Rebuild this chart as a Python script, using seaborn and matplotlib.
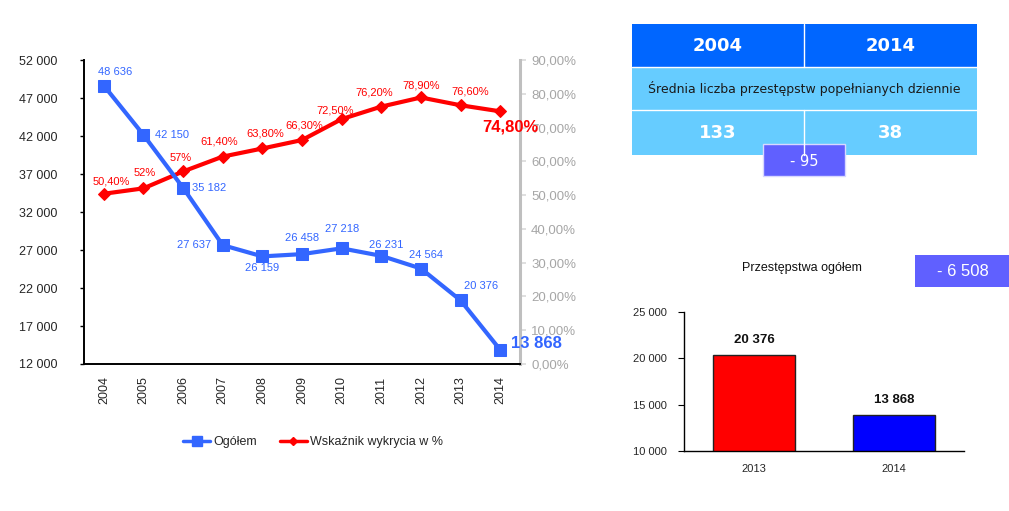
import matplotlib
matplotlib.use("Agg")
import matplotlib.pyplot as plt
from matplotlib.patches import Rectangle
from matplotlib.lines import Line2D
import seaborn as sns
import pandas as pd

# ---------------- data ----------------
years = [2004, 2005, 2006, 2007, 2008, 2009, 2010, 2011, 2012, 2013, 2014]
ogolem = [48636, 42150, 35182, 27637, 26159, 26458, 27218, 26231, 24564, 20376, 13868]
wykrycie = [50.4, 52.0, 57.0, 61.4, 63.8, 66.3, 72.5, 76.2, 78.9, 76.6, 74.8]
wykrycie_labels = ["50,40%", "52%", "57%", "61,40%", "63,80%", "66,30%",
                   "72,50%", "76,20%", "78,90%", "76,60%", "74,80%"]
left_ticks = [12000, 17000, 22000, 27000, 32000, 37000, 42000, 47000, 52000]
right_ticks = [0, 10, 20, 30, 40, 50, 60, 70, 80, 90]

table_years = ["2004", "2014"]
table_caption = "Średnia liczba przestępstw popełnianych dziennie"
table_values = ["133", "38"]
table_diff = "- 95"

bar_years = ["2013", "2014"]
bar_values = [20376, 13868]
bar_ticks = [10000, 15000, 20000, 25000]
bar_title = "Przestępstwa ogółem"
bar_diff = "- 6 508"

# label offsets (pixels) -- layout only
blue_off = [(11, 14, "center"), (12, 0, "left"), (9, 0, "left"), (-12, 0, "right"),
            (0, -12, "center"), (0, 16, "center"), (0, 19, "center"), (5, 11, "center"),
            (5, 14, "center"), (21, 14, "center"), (11, 6, "left")]
red_off = [(7, 12), (1, 15), (-2, 13), (-4, 15), (3, 15), (2, 15), (-6, 9),
           (-7, 14), (0, 12), (10, 14), (10, -16)]

BLUE = "#3366FF"
RED = "#FF0000"
GRAY = "#A6A6A6"

sns.set_style("white")
plt.rcParams["font.family"] = ["Liberation Sans", "DejaVu Sans"]

def fmt_thousands(v):
    return f"{int(v):,}".replace(",", " ")

fig = plt.figure(figsize=(10.09, 5.11), dpi=100)
W, H = 1009, 511

def fax(l, t, r, b):
    return [l / W, 1 - b / H, (r - l) / W, (b - t) / H]

# ---------------- main line chart ----------------
ax = fig.add_axes(fax(84, 60, 520, 364))
df = pd.DataFrame({"year": years, "ogolem": ogolem, "wykrycie": wykrycie})
sns.lineplot(data=df, x="year", y="ogolem", ax=ax, color=BLUE, lw=3,
             marker="s", markersize=9, markeredgecolor=BLUE, zorder=3)
ax.set_xlim(2003.5, 2014.5)
ax.set_ylim(12000, 52000)
ax.set_yticks(left_ticks)
ax.set_yticklabels([fmt_thousands(v) for v in left_ticks], fontsize=9)
ax.set_xticks(years)
ax.set_xticklabels([str(y) for y in years], rotation=90, fontsize=9)
ax.set_xticks([y - 0.5 for y in years] + [years[-1] + 0.5], minor=True)
ax.tick_params(axis="x", which="major", length=0, pad=9)
ax.tick_params(axis="x", which="minor", length=4, color="black", width=1)
ax.tick_params(axis="y", length=3, color="black", width=1, pad=16, left=True)
ax.set_xlabel("")
ax.set_ylabel("")
for s in ["top", "right"]:
    ax.spines[s].set_visible(False)
for s in ["left", "bottom"]:
    ax.spines[s].set_color("black")
    ax.spines[s].set_linewidth(1.4)

ax2 = ax.twinx()
sns.lineplot(data=df, x="year", y="wykrycie", ax=ax2, color=RED, lw=3,
             marker="D", markersize=6, markeredgecolor=RED, zorder=3)
ax2.set_ylim(0, 90)
ax2.set_yticks(right_ticks)
ax2.set_yticklabels([f"{v},00%" for v in right_ticks], fontsize=9.5, color=GRAY)
ax2.tick_params(axis="y", length=4, color="#D9D9D9", width=1.2, pad=4, right=True)
ax2.set_ylabel("")
for s in ["top", "left", "bottom"]:
    ax2.spines[s].set_visible(False)
ax2.spines["right"].set_color("#BFBFBF")
ax2.spines["right"].set_linewidth(2.2)
ax.set_zorder(ax2.get_zorder() + 1)
ax.patch.set_visible(False)

for i, (x, v) in enumerate(zip(years, ogolem)):
    dx, dy, ha = blue_off[i]
    last = i == len(years) - 1
    ax.annotate(fmt_thousands(v), (x, v), xytext=(dx, dy), textcoords="offset pixels",
                ha=ha, va="center", color=BLUE,
                fontsize=12 if last else 8, fontweight="bold" if last else "normal",
                zorder=5)
for i, (x, v) in enumerate(zip(years, wykrycie)):
    dx, dy = red_off[i]
    last = i == len(years) - 1
    ax2.annotate(wykrycie_labels[i], (x, v), xytext=(dx, dy), textcoords="offset pixels",
                 ha="center", va="center", color=RED,
                 fontsize=12 if last else 8, fontweight="bold" if last else "normal",
                 zorder=5)

handles = [Line2D([], [], color=BLUE, lw=2.5, marker="s", markersize=7),
           Line2D([], [], color=RED, lw=2.5, marker="D", markersize=4.5)]
fig.legend(handles, ["Ogółem", "Wskaźnik wykrycia w %"], loc="center",
           bbox_to_anchor=(313 / W, 1 - 442 / H), ncol=2, frameon=False, fontsize=9,
           handlelength=2.2, handletextpad=0.25, columnspacing=1.8)

# ---------------- bar chart ----------------
bx = fig.add_axes(fax(684, 312, 964, 451))
bdf = pd.DataFrame({"rok": bar_years, "wartosc": bar_values})
sns.barplot(data=bdf, x="rok", y="wartosc", hue="rok", palette=[RED, "#0000FF"],
            ax=bx, width=0.59, edgecolor="#222222", linewidth=1, legend=False,
            saturation=1)
bx.set_ylim(10000, 25000)
bx.set_xlim(-0.5, 1.5)
bx.set_yticks(bar_ticks)
bx.set_yticklabels([fmt_thousands(v) for v in bar_ticks], fontsize=8)
bx.set_xticks([0, 1])
bx.set_xticklabels(bar_years, fontsize=8)
bx.set_xticks([-0.5, 0.5, 1.5], minor=True)
bx.tick_params(axis="x", which="major", length=0, pad=9)
bx.tick_params(axis="x", which="minor", length=3, color="black")
bx.tick_params(axis="y", length=4, color="black", pad=8, left=True)
bx.set_xlabel("")
bx.set_ylabel("")
for s in ["top", "right"]:
    bx.spines[s].set_visible(False)
for s in ["left", "bottom"]:
    bx.spines[s].set_color("black")
    bx.spines[s].set_linewidth(1)
for i, v in enumerate(bar_values):
    bx.annotate(fmt_thousands(v), (i, v), xytext=(0, 15), textcoords="offset pixels",
                ha="center", va="center", fontsize=9.5, fontweight="bold", color="#111111")

# ---------------- overlay: table and boxes ----------------
ov = fig.add_axes([0, 0, 1, 1])
ov.set_xlim(0, W)
ov.set_ylim(H, 0)
ov.axis("off")
ov.patch.set_visible(False)

ov.add_patch(Rectangle((632, 24), 345, 43, facecolor="#0066FF", edgecolor="none"))
ov.add_patch(Rectangle((632, 67), 345, 88, facecolor="#66CCFF", edgecolor="none"))
ov.plot([632, 977], [67, 67], color="white", lw=1)
ov.plot([632, 977], [110, 110], color="white", lw=1)
ov.plot([804, 804], [24, 67], color="white", lw=1)
ov.plot([804, 804], [110, 155], color="white", lw=1)
for cx, t in zip([718, 890.5], table_years):
    ov.text(cx, 46, t, ha="center", va="center", color="white", fontsize=13,
            fontweight="bold", family="DejaVu Sans")
ov.text(804.5, 89, table_caption, ha="center", va="center", color="#1a1a1a",
        fontsize=9, family="DejaVu Sans")
for cx, t in zip([718, 890.5], table_values):
    ov.text(cx, 133, t, ha="center", va="center", color="white", fontsize=13,
            fontweight="bold", family="DejaVu Sans")
ov.add_patch(Rectangle((763, 144), 82, 32, facecolor="#6060FF", edgecolor="#D8D8FF", lw=1))
ov.text(804, 161, table_diff, ha="center", va="center", color="white", fontsize=10.5,
        family="DejaVu Sans")

ov.text(802, 268, bar_title, ha="center", va="center", color="#111111", fontsize=9)
ov.add_patch(Rectangle((915, 255), 94, 32, facecolor="#6060FF", edgecolor="none"))
ov.text(963, 271, bar_diff, ha="center", va="center", color="white", fontsize=12)

fig.savefig("out.png", dpi=100)
